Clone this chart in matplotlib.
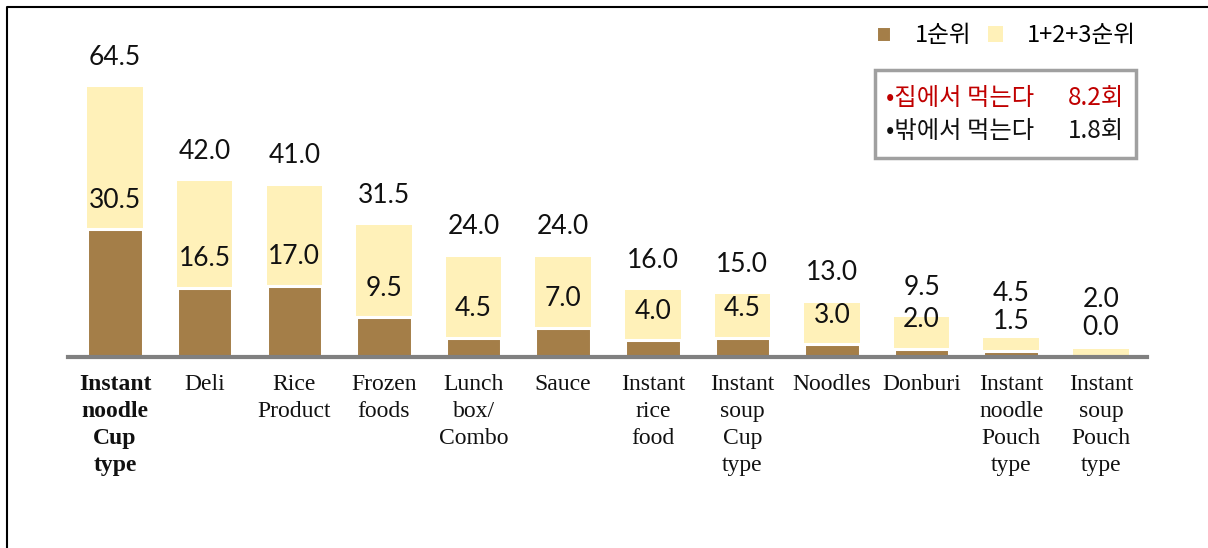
import matplotlib.pyplot as plt
from matplotlib.patches import Rectangle
from matplotlib.lines import Line2D

categories = ['Instant\nnoodle\nCup\ntype', 'Deli', 'Rice\nProduct', 'Frozen\nfoods',
              'Lunch\nbox/\nCombo', 'Sauce', 'Instant\nrice\nfood', 'Instant\nsoup\nCup\ntype',
              'Noodles', 'Donburi', 'Instant\nnoodle\nPouch\ntype', 'Instant\nsoup\nPouch\ntype']
rank1 = [30.5, 16.5, 17.0, 9.5, 4.5, 7.0, 4.0, 4.5, 3.0, 2.0, 1.5, 0.0]
rank123 = [64.5, 42.0, 41.0, 31.5, 24.0, 24.0, 16.0, 15.0, 13.0, 9.5, 4.5, 2.0]

brown = '#A47E48'
yellow = '#FFF1B9'

fig = plt.figure(figsize=(12.08, 5.48), dpi=100)
ax = fig.add_axes([68 / 1208, 1 - 357 / 548, 1079 / 1208, 347 / 548])

x = range(len(categories))
ax.bar(x, rank123, width=0.62, color=yellow, zorder=1, label='1+2+3순위')
ax.bar(x, rank1, width=0.62, color=brown, edgecolor='white', linewidth=2.2, zorder=2, label='1순위')

num_font = dict(family='Lato', fontsize=19, color='#111111', ha='center', va='center')
for i, (a, b) in enumerate(zip(rank1, rank123)):
    y1 = a + 7.0
    y3 = max(b + 7.2, y1 + 6.7)
    ax.text(i, y1, f'{a:.1f}', zorder=3, **num_font)
    ax.text(i, y3, f'{b:.1f}', zorder=3, **num_font)

ax.set_xlim(-0.525, 11.515)
ax.set_ylim(0, 83)
ax.set_yticks([])
ax.set_xticks(list(x))
ax.set_xticklabels(categories, family='Liberation Serif', fontsize=17, linespacing=1.38, color='#111111')
ax.tick_params(axis='x', length=0, pad=12)
ax.get_xticklabels()[0].set_fontweight('bold')
for side in ['top', 'right', 'left']:
    ax.spines[side].set_visible(False)
ax.spines['bottom'].set_color('#808080')
ax.spines['bottom'].set_linewidth(3)
ax.spines['bottom'].set_zorder(4)

# legend across the top right
handles, labels = ax.get_legend_handles_labels()
leg = ax.legend(handles[::-1], labels[::-1], ncol=2, frameon=False,
                loc='center right', bbox_to_anchor=(1157 / 1208, 1 - 36 / 548),
                bbox_transform=fig.transFigure,
                prop={'family': 'Noto Sans CJK KR', 'size': 17},
                handlelength=0.65, handleheight=0.65, handletextpad=1.0, columnspacing=0.7)

# boxed note: eating at home vs outside
fig.patches.append(Rectangle((875 / 1208, 1 - 158 / 548), 261 / 1208, 88 / 548,
                             transform=fig.transFigure, facecolor='white',
                             edgecolor='#A0A0A0', linewidth=2.5))
box_font = dict(family=['Noto Sans CJK KR', 'DejaVu Sans'], fontsize=17.5, va='center')
fig.text(886 / 1208, 1 - 98 / 548, '•집에서 먹는다', color='#C00000', ha='left', **box_font)
fig.text(1124 / 1208, 1 - 98 / 548, '8.2회', color='#C00000', ha='right', **box_font)
fig.text(886 / 1208, 1 - 131 / 548, '•밖에서 먹는다', color='#111111', ha='left', **box_font)
fig.text(1124 / 1208, 1 - 131 / 548, '1.8회', color='#111111', ha='right', **box_font)

# partial frame along the left and top edges
fig.lines.append(Line2D([7 / 1208, 7 / 1208, 1], [0, 1 - 7 / 548, 1 - 7 / 548],
                        transform=fig.transFigure, color='black', linewidth=1.5))

fig.savefig('out.png', dpi=100)
